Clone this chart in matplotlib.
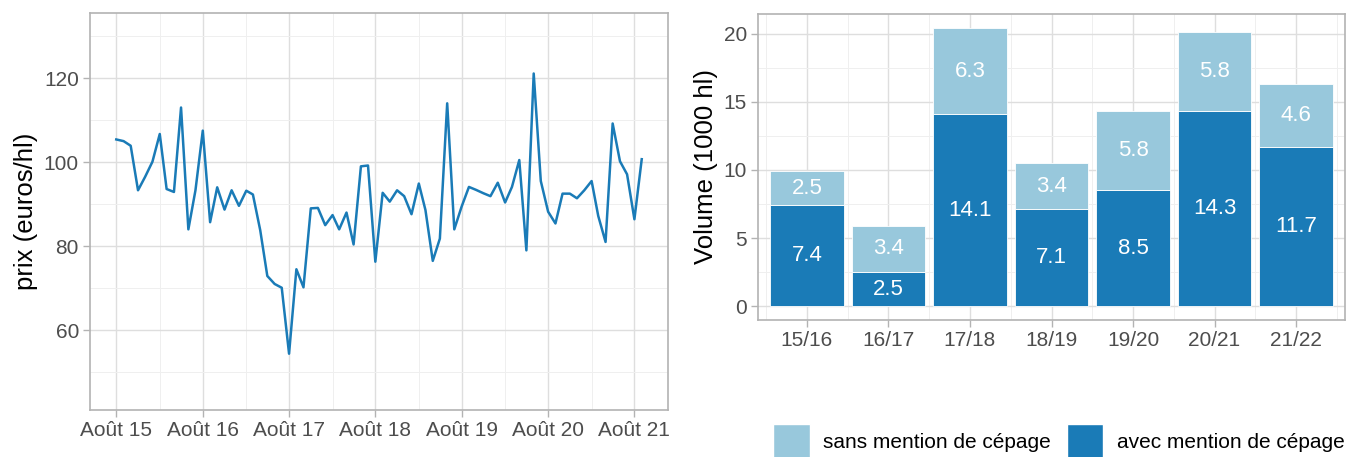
import numpy as np
import pandas as pd
import matplotlib
matplotlib.use("Agg")
import matplotlib.pyplot as plt
import matplotlib.dates as mdates
from matplotlib.patches import Patch

plt.rcParams['font.family'] = ['Liberation Sans', 'DejaVu Sans']

# --- data: monthly price (euros/hl), Aug 2015 -> Sep 2021
months = pd.date_range('2015-08-01', periods=74, freq='MS')
prix = [105.4, 105.0, 103.9, 93.3, 96.5,
        100.1, 106.7, 93.6, 92.9, 113.0, 84.0, 93.3, 107.5, 85.7, 94.0, 88.7, 93.3,
        89.6, 93.2, 92.3, 83.8, 72.9, 71.0, 70.1, 54.4, 74.5, 70.2, 89.0, 89.1,
        85.0, 87.4, 84.0, 88.0, 80.4, 99.0, 99.2, 76.3, 92.7, 90.6, 93.3, 91.9,
        87.6, 94.9, 88.6, 76.5, 81.8, 114.0, 84.0, 89.4, 94.1, 93.4, 92.6, 91.9,
        95.1, 90.4, 94.1, 100.5, 79.0, 121.1, 95.5, 88.2, 85.4, 92.5, 92.5, 91.4,
        93.3, 95.5, 87.2, 81.0, 109.2, 100.2, 97.1, 86.4, 100.7]

# --- data: volumes (1000 hl) per campaign
campagnes = ['15/16', '16/17', '17/18', '18/19', '19/20', '20/21', '21/22']
avec_cepage = [7.4, 2.5, 14.1, 7.1, 8.5, 14.3, 11.7]
sans_cepage = [2.5, 3.4, 6.3, 3.4, 5.8, 5.8, 4.6]

DARK = '#1a7bb7'
LIGHT = '#98c8dc'
GRID_MAJ = '#dedede'
GRID_MIN = '#efefef'
BORDER = '#b3b3b3'
TXT = '#4d4d4d'

fig = plt.figure(figsize=(13.46, 4.57), dpi=100)
W, H = 1346, 457
ax1 = fig.add_axes([90 / W, 1 - 410 / H, (668 - 90) / W, (410 - 13) / H])
ax2 = fig.add_axes([758 / W, 1 - 320 / H, (1345 - 758) / W, (320 - 14) / H])


def style(ax):
    for s in ax.spines.values():
        s.set_color(BORDER)
        s.set_linewidth(1.2)
    ax.set_axisbelow(True)
    ax.grid(which='major', color=GRID_MAJ, lw=1.0)
    ax.grid(which='minor', color=GRID_MIN, lw=0.7)
    ax.tick_params(which='major', length=5, width=1.0, color=BORDER,
                   labelcolor=TXT, labelsize=15, pad=3)
    ax.tick_params(which='minor', length=0)


# left: price line
x = mdates.date2num(months)
ax1.plot(x, prix, color=DARK, lw=1.8)
span = x[-1] - x[0]
ax1.set_xlim(x[0] - 0.05 * span, x[-1] + 0.05 * span)
ax1.set_ylim(41, 135.5)
years = range(2015, 2022)
ax1.set_xticks(mdates.date2num([pd.Timestamp(y, 8, 1) for y in years]))
ax1.set_xticklabels(['Août %02d' % (y % 100) for y in years])
ax1.set_xticks(mdates.date2num([pd.Timestamp(y, 2, 1) for y in range(2016, 2022)]), minor=True)
ax1.set_yticks([60, 80, 100, 120])
ax1.set_yticks([50, 70, 90, 110, 130], minor=True)
ax1.set_ylabel('prix (euros/hl)', fontsize=18.5, color='black', labelpad=4)
style(ax1)

# right: stacked bars
pos = np.arange(1, len(campagnes) + 1)
ax2.bar(pos, avec_cepage, width=0.9, color=DARK, edgecolor='white', lw=0.6,
        label='avec mention de cépage')
ax2.bar(pos, sans_cepage, width=0.9, bottom=avec_cepage, color=LIGHT,
        edgecolor='white', lw=0.6, label='sans mention de cépage')
for p, a, s in zip(pos, avec_cepage, sans_cepage):
    ax2.text(p, a / 2, f'{a:.1f}', ha='center', va='center', color='white', fontsize=16)
    ax2.text(p, a + s / 2, f'{s:.1f}', ha='center', va='center', color='white', fontsize=16)
ax2.set_xlim(0.4, 7.6)
ax2.set_ylim(-1.02, 21.45)
ax2.set_xticks(pos)
ax2.set_xticklabels(campagnes)
ax2.set_xticks(np.arange(0.5, 8.0, 1.0), minor=True)
ax2.set_yticks([0, 5, 10, 15, 20])
ax2.set_yticks([2.5, 7.5, 12.5, 17.5], minor=True)
ax2.set_ylabel('Volume (1000 hl)', fontsize=18.5, color='black', labelpad=4)
style(ax2)

handles = [Patch(facecolor=LIGHT, edgecolor='white', label='sans mention de cépage'),
           Patch(facecolor=DARK, edgecolor='white', label='avec mention de cépage')]
fig.legend(handles=handles, loc='center', bbox_to_anchor=(1059 / W, 1 - 441 / H),
           ncol=2, frameon=False, fontsize=15, handlelength=1.75, handleheight=2.1,
           handletextpad=0.65, columnspacing=0.75, borderpad=0, borderaxespad=0)

fig.savefig('out.png', dpi=100)
